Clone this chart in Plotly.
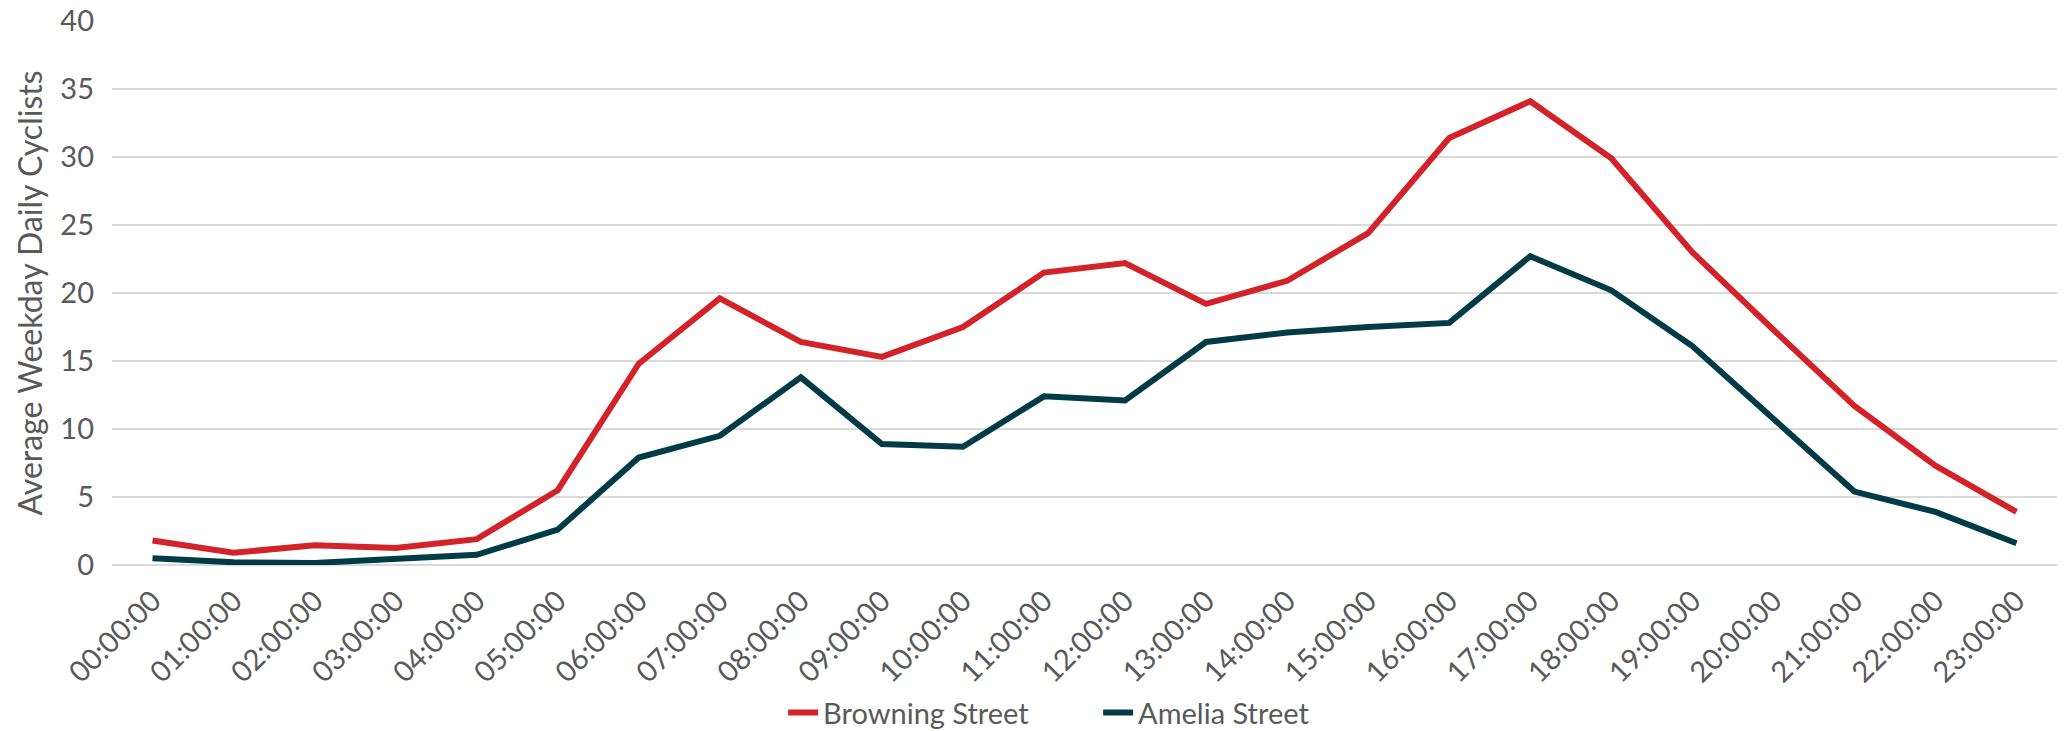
import plotly.graph_objects as go

hours = [f"{h:02d}:00:00" for h in range(24)]

browning = [1.8, 0.9, 1.45, 1.25, 1.9, 5.5, 14.8, 19.6, 16.4, 15.3, 17.5, 21.5,
            22.2, 19.2, 20.9, 24.4, 31.4, 34.1, 29.9, 23.0, 17.3, 11.7, 7.3, 3.9]
amelia = [0.5, 0.2, 0.15, 0.45, 0.75, 2.6, 7.9, 9.5, 13.8, 8.9, 8.7, 12.4,
          12.1, 16.4, 17.1, 17.5, 17.8, 22.7, 20.2, 16.1, 10.7, 5.4, 3.9, 1.6]

y_ticks = [0, 5, 10, 15, 20, 25, 30, 35, 40]

RED = "#D2232A"
TEAL = "#003B46"
TEXT = "#595959"
GRID = "#D9D9D9"
FONT = "Lato"

fig = go.Figure()
fig.add_trace(go.Scatter(x=hours, y=browning, mode="lines", name="Browning Street",
                         line=dict(color=RED, width=6)))
fig.add_trace(go.Scatter(x=hours, y=amelia, mode="lines", name="Amelia Street",
                         line=dict(color=TEAL, width=6)))

fig.update_layout(
    width=2065, height=731,
    margin=dict(l=112, r=8, t=21, b=166),
    paper_bgcolor="white", plot_bgcolor="white",
    font=dict(family=FONT, size=29, color=TEXT),
    showlegend=True,
    legend=dict(orientation="h", x=0.507, xanchor="center",
                yref="container", y=0.025, yanchor="middle",
                font=dict(family=FONT, size=29, color=TEXT),
                entrywidth=270, entrywidthmode="pixels",
                tracegroupgap=0),
    xaxis=dict(type="category", categoryorder="array", categoryarray=hours,
               range=[-0.5, 23.5], showgrid=False, showline=False, zeroline=False,
               tickangle=-45, ticks="", ticklabelstandoff=12, automargin=False,
               tickfont=dict(family=FONT, size=29, color=TEXT)),
    yaxis=dict(range=[0, 40], tickvals=y_ticks, showgrid=True, gridcolor=GRID,
               gridwidth=2, zeroline=True, zerolinecolor=GRID, zerolinewidth=2,
               showline=False, ticks="", ticklabelstandoff=17, automargin=False,
               tickfont=dict(family=FONT, size=29, color=TEXT),
               title=dict(text="Average Weekday Daily Cyclists", standoff=8,
                          font=dict(family=FONT, size=32, color=TEXT))),
)

fig.write_html("out.html")
